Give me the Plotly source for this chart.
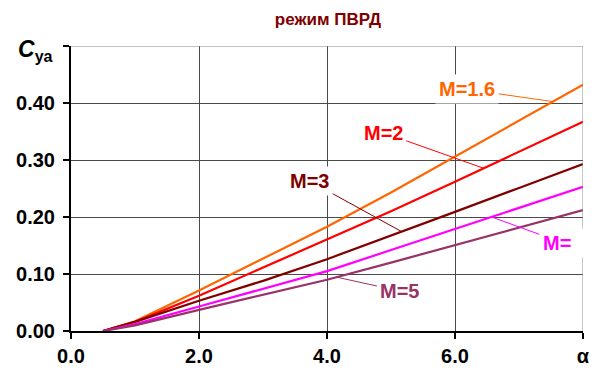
import plotly.graph_objects as go

# ---- data ----
alpha = [0.5, 1, 2, 3, 4, 5, 6, 7, 8]
cy_m16 = [0.0, 0.017, 0.071, 0.127, 0.183, 0.243, 0.306, 0.369, 0.432]
cy_m2 = [0.0, 0.016, 0.062, 0.111, 0.160, 0.210, 0.262, 0.314, 0.367]
cy_m3 = [0.0, 0.016, 0.053, 0.088, 0.126, 0.167, 0.209, 0.251, 0.293]
cy_m4 = [0.0, 0.012, 0.043, 0.074, 0.105, 0.142, 0.179, 0.216, 0.253]
cy_m5 = [0.0, 0.010, 0.037, 0.063, 0.090, 0.120, 0.151, 0.181, 0.212]

x_tickvals = [0, 2, 4, 6, 8]
x_ticktext = ["0.0", "2.0", "4.0", "6.0", "α"]
y_tickvals = [0.0, 0.1, 0.2, 0.3, 0.4, 0.5]
y_ticktext = ["0.00", "0.10", "0.20", "0.30", "0.40", " "]

series = [
    ("M=1.6", cy_m16, "#FF6600"),
    ("M=2", cy_m2, "#FF0000"),
    ("M=3", cy_m3, "#800000"),
    ("M=4", cy_m4, "#FF00FF"),
    ("M=5", cy_m5, "#993366"),
]

# label text, text position (alpha, cy), leader tip alpha, series index
labels = [
    ("M=1.6", 6.19, 0.424, 7.53, 0),
    ("M=2", 4.88, 0.348, 6.45, 1),
    ("M=3", 3.73, 0.263, 5.17, 2),
    ("M=", 7.70, 0.154, 6.57, 3),
    ("M=5", 5.14, 0.070, 4.15, 4),
]

FONT = "Liberation Sans, Arial, sans-serif"

fig = go.Figure()
for name, ys, col in series:
    fig.add_trace(go.Scatter(x=alpha, y=ys, mode="lines", name=name,
                             line=dict(color=col, width=2.2), showlegend=False))


def interp(xv, xs, ys):
    for i in range(len(xs) - 1):
        if xs[i] <= xv <= xs[i + 1]:
            t = (xv - xs[i]) / (xs[i + 1] - xs[i])
            return ys[i] + t * (ys[i + 1] - ys[i])
    return ys[-1]


for text, tx, ty, tipx, si in labels:
    col = series[si][2]
    tipy = interp(tipx, alpha, series[si][1])
    extra = {}
    if text == "M=":
        extra = dict(width=42, align="left")
    fig.add_annotation(x=tipx, y=tipy, ax=tx, ay=ty, xref="x", yref="y",
                       axref="x", ayref="y", text=text, showarrow=True,
                       arrowhead=0, arrowwidth=1, arrowcolor=col,
                       bgcolor="white", borderpad=3,
                       font=dict(family=FONT, size=20, color=col, weight="bold"),
                       **extra)

# edge lines (top border, right border) in gray
fig.add_shape(type="line", xref="x", yref="y", x0=x_tickvals[0], x1=x_tickvals[-1],
              y0=y_tickvals[-1], y1=y_tickvals[-1], line=dict(color="#8c8c8c", width=1),
              layer="above")
fig.add_shape(type="line", xref="x", yref="y", x0=x_tickvals[-1], x1=x_tickvals[-1],
              y0=y_tickvals[0], y1=y_tickvals[-1], line=dict(color="#8c8c8c", width=1),
              layer="above")

# y axis title
fig.add_annotation(xref="paper", yref="paper", x=-0.107, y=0.985, xanchor="left",
                   yanchor="middle", showarrow=False,
                   text="<b><i>C</i></b><sub><b>ya</b></sub>",
                   font=dict(family=FONT, size=23, color="black"))

fig.update_layout(
    width=601, height=370,
    margin=dict(l=71, r=18, t=46, b=39, autoexpand=False),
    paper_bgcolor="white", plot_bgcolor="white",
    title=dict(text="режим ПВРД", x=328 / 601, xanchor="center", y=1 - 19 / 370,
               yanchor="middle", yref="container", automargin=False,
               font=dict(family=FONT, size=17, color="#800000", weight="bold")),
    xaxis=dict(range=[x_tickvals[0], x_tickvals[-1]], tickvals=x_tickvals,
               ticktext=x_ticktext, showline=True, linecolor="black", linewidth=2,
               ticks="outside", ticklen=6, tickwidth=2, tickcolor="black",
               showgrid=True, gridcolor="#4a4a4a", gridwidth=1, zeroline=False,
               automargin=False,
               tickfont=dict(family=FONT, size=20, color="black", weight="bold")),
    yaxis=dict(range=[y_tickvals[0], y_tickvals[-1]], tickvals=y_tickvals,
               ticktext=y_ticktext, showline=True, linecolor="black", linewidth=2,
               ticks="outside", ticklen=6, tickwidth=2, tickcolor="black",
               showgrid=True, gridcolor="#4a4a4a", gridwidth=1, zeroline=False,
               ticklabelstandoff=4, automargin=False,
               tickfont=dict(family=FONT, size=20, color="black", weight="bold")),
)

fig.write_html("out.html")
